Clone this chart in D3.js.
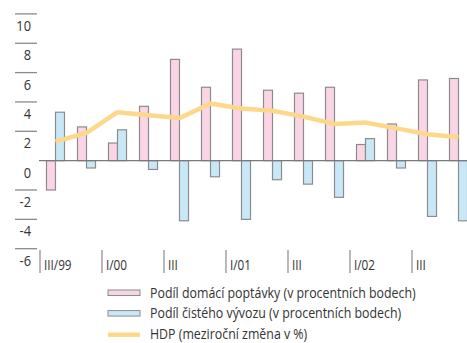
<!DOCTYPE html>
<html>
<head>
<meta charset="utf-8">
<script src="https://cdn.jsdelivr.net/npm/d3@7"></script>
<style>
  html, body { margin: 0; padding: 0; background: #fff; }
  svg { display: block; }
  text { font-family: "Open Sans", "Noto Sans", sans-serif; fill: #333; }
</style>
</head>
<body>
<svg id="chart" width="467" height="343"></svg>
<script>
// Quarters III/99 .. IV/02
const quarters = ["III/99","IV/99","I/00","II/00","III/00","IV/00","I/01","II/01","III/01","IV/01","I/02","II/02","III/02","IV/02"];
// Axis group labels (one per pair of quarters)
const groupLabels = ["III/99","I/00","III","I/01","III","I/02","III"];
// Contribution of domestic demand (pp)
const domestic = [-2.0, 2.3, 1.2, 3.7, 6.9, 5.0, 7.6, 4.8, 4.6, 5.0, 1.1, 2.5, 5.5, 5.6];
// Contribution of net exports (pp)
const netExports = [3.3, -0.5, 2.1, -0.6, -4.1, -1.1, -4.0, -1.3, -1.6, -2.5, 1.5, -0.5, -3.8, -4.1];
// GDP, year-on-year change (%)
const gdp = [1.3, 1.9, 3.3, 3.1, 2.9, 3.9, 3.55, 3.4, 3.0, 2.5, 2.6, 2.2, 1.8, 1.6];
// Y axis ticks
const yTicks = [10, 8, 6, 4, 2, 0, -2, -4, -6];

const legendItems = [
  { label: "Podíl domácí poptávky (v procentních bodech)", kind: "bar", fill: "#f9d5e5" },
  { label: "Podíl čistého vývozu (v procentních bodech)", kind: "bar", fill: "#c8e8f8" },
  { label: "HDP (meziroční změna v %)", kind: "line", fill: "#fdd88a" }
];

const svg = d3.select("#chart");
const pinkFill = "#f9d5e5", blueFill = "#c8e8f8", barStroke = "#8c8c8c", lineColor = "#fdd88a";

// Place a label at (px, py) and narrow it horizontally by factor k for a condensed look
function placeCondensed(sel, px, py, k) {
  sel.attr("x", 0).attr("y", 0)
    .attr("transform", (d, i) => `translate(${px(d, i)},${py(d, i)}) scale(${k},1)`);
}

const x = d3.scaleBand().domain(quarters).range([40, 474]).paddingInner(0).paddingOuter(0);
const xs = d3.scaleBand().domain(["dom", "net"]).range([0, x.bandwidth()]).paddingInner(0).paddingOuter(0.72);
const y = d3.scaleLinear().domain([-6, 10]).range([248.7, 13.9]);

// Y axis: short rule above each value label
const yg = svg.append("g");
yg.selectAll("line").data(yTicks.filter(d => d !== 0)).join("line")
  .attr("x1", 15).attr("x2", 37)
  .attr("y1", d => y(d)).attr("y2", d => y(d))
  .attr("stroke", "#8a8a8a").attr("stroke-width", 1.3);
const yLabels = yg.selectAll("text").data(yTicks).join("text")
  .attr("text-anchor", "end")
  .attr("font-size", 14)
  .text(d => d);
placeCondensed(yLabels, () => 31, d => y(d) + 17, 0.92);

// Bars
const bars = svg.append("g");
bars.selectAll("rect.dom").data(quarters).join("rect")
  .attr("class", "dom")
  .attr("x", (q) => x(q) + xs("dom"))
  .attr("width", xs.bandwidth())
  .attr("y", (q, i) => y(Math.max(0, domestic[i])))
  .attr("height", (q, i) => Math.abs(y(domestic[i]) - y(0)))
  .attr("fill", pinkFill).attr("stroke", barStroke).attr("stroke-width", 1.2);
bars.selectAll("rect.net").data(quarters).join("rect")
  .attr("class", "net")
  .attr("x", (q) => x(q) + xs("net"))
  .attr("width", xs.bandwidth())
  .attr("y", (q, i) => y(Math.max(0, netExports[i])))
  .attr("height", (q, i) => Math.abs(y(netExports[i]) - y(0)))
  .attr("fill", blueFill).attr("stroke", barStroke).attr("stroke-width", 1.2);

// Zero line
svg.append("line")
  .attr("x1", 39).attr("x2", 467)
  .attr("y1", y(0)).attr("y2", y(0))
  .attr("stroke", "#7a7a7a").attr("stroke-width", 1.3);

// GDP line
const line = d3.line()
  .x((d, i) => x(quarters[i]) + x.bandwidth() / 2)
  .y(d => y(d));
svg.append("path")
  .datum(gdp)
  .attr("d", line)
  .attr("fill", "none")
  .attr("stroke", lineColor)
  .attr("stroke-width", 4.5)
  .attr("stroke-linejoin", "round");

// X axis: separators between quarter pairs and their labels
const xg = svg.append("g");
const groupStart = (g) => x(quarters[g * 2]);
xg.selectAll("line").data(groupLabels).join("line")
  .attr("x1", (d, g) => groupStart(g)).attr("x2", (d, g) => groupStart(g))
  .attr("y1", 250).attr("y2", 273)
  .attr("stroke", "#8a8a8a").attr("stroke-width", 1.2);
const xLabels = xg.selectAll("text").data(groupLabels).join("text")
  .attr("font-size", 14)
  .text(d => d);
placeCondensed(xLabels, (d, g) => groupStart(g) + 4, () => 270, 0.84);

// Legend
const lg = svg.append("g");
const rowY = (i) => 292.5 + i * 20.6;
legendItems.forEach((it, i) => {
  const cy = rowY(i);
  if (it.kind === "bar") {
    lg.append("rect").attr("x", 108).attr("y", cy - 2.5).attr("width", 32).attr("height", 5.5)
      .attr("fill", it.fill).attr("stroke", barStroke).attr("stroke-width", 1);
  } else {
    lg.append("line").attr("x1", 108).attr("x2", 140).attr("y1", cy + 1).attr("y2", cy + 1)
      .attr("stroke", it.fill).attr("stroke-width", 4.5);
  }
});
const legendTexts = lg.selectAll("text").data(legendItems).join("text")
  .attr("font-size", 14.5)
  .text(d => d.label);
const firstW = legendTexts.node().getComputedTextLength();
placeCondensed(legendTexts, () => 150, (d, i) => rowY(i) + 5, 266 / firstW);
</script>
</body>
</html>
